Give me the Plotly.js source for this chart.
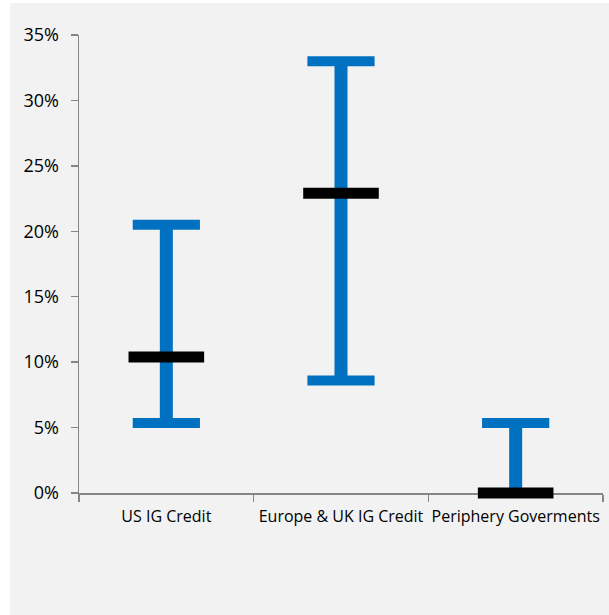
<!DOCTYPE html>
<html><head><meta charset="utf-8">
<script src="https://cdn.plot.ly/plotly-3.0.1.min.js"></script>
<style>html,body{margin:0;padding:0;background:#fff;}#chart{position:absolute;left:10px;top:3px;width:599px;height:612px;}</style>
</head><body><div id="chart"></div>
<script>
const categories = ["US IG Credit", "Europe & UK IG Credit", "Periphery Goverments"];
const lowValues = [5.35, 8.6, 0];
const highValues = [20.5, 33.0, 5.35];
const midValues = [10.4, 22.9, 0];
const yTicks = [0, 5, 10, 15, 20, 25, 30, 35];

const blue = "#0070C0";
const stemX = [], stemY = [];
categories.forEach((c, i) => { stemX.push(c, c, null); stemY.push(lowValues[i], highValues[i], null); });

const traces = [
  {x: stemX, y: stemY, mode: "lines", line: {color: blue, width: 13}, hoverinfo: "skip", cliponaxis: false},
  {x: categories.concat(categories), y: lowValues.concat(highValues), mode: "markers",
   marker: {symbol: "line-ew", size: 48, line: {color: blue, width: 10}}, cliponaxis: false},
  {x: categories, y: midValues, mode: "markers",
   marker: {symbol: "line-ew", size: 54, line: {color: "#000000", width: 11}}, cliponaxis: false}
];

const layout = {
  width: 599, height: 612,
  margin: {l: 69, r: 6, t: 32, b: 122},
  paper_bgcolor: "#f2f2f2", plot_bgcolor: "#f2f2f2",
  showlegend: false,
  font: {family: "Open Sans, sans-serif", color: "#000"},
  xaxis: {type: "category", range: [-0.5, 2.5], tickson: "boundaries", ticks: "outside", ticklen: 7,
          tickcolor: "#868686", tickwidth: 1.5, showline: true, linecolor: "#868686", linewidth: 1.5,
          layer: "below traces", ticklabelstandoff: 8, tickangle: 0, automargin: false,
          showgrid: false, zeroline: false, tickfont: {size: 16}, fixedrange: true},
  yaxis: {range: [0, 35], tickvals: yTicks, ticktext: yTicks.map(v => v + "%"), ticks: "outside", ticklen: 7,
          tickcolor: "#868686", tickwidth: 1.5, showline: true, linecolor: "#868686", linewidth: 1.5,
          layer: "below traces", ticklabelstandoff: 8,
          showgrid: false, zeroline: false, tickfont: {size: 18}, fixedrange: true}
};
Plotly.newPlot("chart", traces, layout, {displayModeBar: false, staticPlot: true});
</script></body></html>
